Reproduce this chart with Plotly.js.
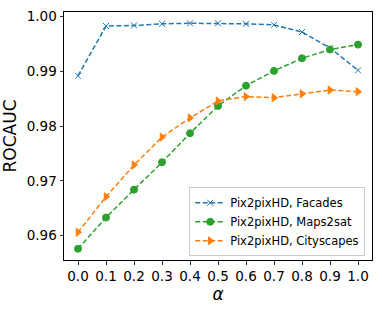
<!DOCTYPE html>
<html>
<head>
<meta charset="utf-8">
<script src="https://cdn.plot.ly/plotly-3.0.1.min.js"></script>
<style>html,body{margin:0;padding:0;background:#fff;}#chart{width:382px;height:315px;}</style>
</head>
<body>
<div id="chart"></div>
<script>
const alpha = [0.0, 0.1, 0.2, 0.3, 0.4, 0.5, 0.6, 0.7, 0.8, 0.9, 1.0];
const facades = [0.9892, 0.9983, 0.9984, 0.9987, 0.9988, 0.9988, 0.9987, 0.9985, 0.9972, 0.9943, 0.9902];
const maps2sat = [0.9576, 0.9633, 0.9684, 0.9734, 0.9787, 0.9837, 0.9874, 0.9901, 0.9924, 0.9940, 0.9949];
const cityscapes = [0.9606, 0.9671, 0.9729, 0.9780, 0.9815, 0.9846, 0.9854, 0.9852, 0.9859, 0.9866, 0.9863];
const seriesNames = ['Pix2pixHD, Facades', 'Pix2pixHD, Maps2sat', 'Pix2pixHD, Cityscapes'];
const yTicks = [0.96, 0.97, 0.98, 0.99, 1.00];

const font = 'DejaVu Sans, sans-serif';
function tr(y, name, color, symbol, msize) {
  return {
    x: alpha, y: y, name: name, type: 'scatter', mode: 'lines+markers',
    line: {color: color, width: 1.5, dash: '5px,2.5px'},
    marker: {color: color, symbol: symbol, size: msize, line: {color: color, width: 1}}
  };
}
const data = [
  tr(facades, seriesNames[0], '#1f77b4', 'x-thin', 6),
  tr(maps2sat, seriesNames[1], '#2ca02c', 'circle', 7),
  tr(cityscapes, seriesNames[2], '#ff7f0e', 'triangle-right', 7)
];
const axisCommon = {
  showline: true, mirror: true, linecolor: '#000', linewidth: 1,
  ticks: 'outside', ticklen: 3.5, tickwidth: 0.8, tickcolor: '#000',
  showgrid: false, zeroline: false,
  tickfont: {family: font, size: 13.5, color: '#000'}
};
const layout = {
  width: 382, height: 315,
  margin: {l: 64, r: 10, t: 12, b: 55},
  paper_bgcolor: '#fff', plot_bgcolor: '#fff',
  font: {family: font, color: '#000'},
  showlegend: true,
  legend: {
    x: 0.978, y: 0.015, xanchor: 'right', yanchor: 'bottom',
    bgcolor: 'rgba(255,255,255,0.8)', bordercolor: '#cccccc', borderwidth: 1,
    font: {family: font, size: 11.5, color: '#000'},
    itemwidth: 30, tracegroupgap: 0
  },
  xaxis: Object.assign({}, axisCommon, {
    range: [-0.05, 1.05], tickvals: alpha, tickformat: '.1f',
    title: {text: '<i>α</i>', font: {family: font, size: 17, color: '#000'}, standoff: 5}
  }),
  yaxis: Object.assign({}, axisCommon, {
    range: [0.95554, 1.00086], tickvals: yTicks, tickformat: '.2f',
    title: {text: 'ROCAUC', font: {family: font, size: 17, color: '#000'}, standoff: 5}
  })
};
Plotly.newPlot('chart', data, layout, {displayModeBar: false, staticPlot: true});
</script>
</body>
</html>
